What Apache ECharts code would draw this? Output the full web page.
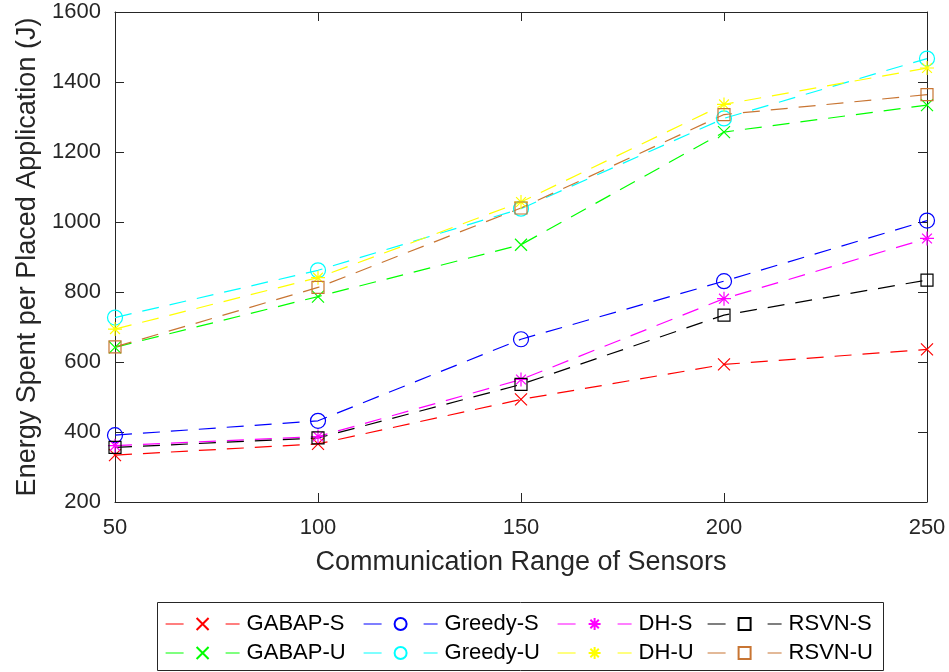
<!DOCTYPE html>
<html>
<head>
<meta charset="utf-8">
<script src="https://cdn.jsdelivr.net/npm/echarts@6/dist/echarts.min.js"></script>
<style>
  html, body { margin: 0; padding: 0; background: #fff; }
  #chart { width: 949px; height: 672px; }
</style>
</head>
<body>
<div id="chart"></div>
<script>
(function(){
    // communication range (x axis)
    var ranges = [50, 100, 150, 200, 250];
    var yTicks = [200, 400, 600, 800, 1000, 1200, 1400, 1600];

    // energy per placed application (J)
    var gabapS  = [334, 366, 493, 593, 636];
    var gabapU  = [642, 787, 935, 1257, 1334];
    var greedyS = [391, 432, 665, 831, 1004];
    var greedyU = [727, 862, 1038, 1296, 1467];
    var dhS     = [361, 387, 550, 781, 953];
    var dhU     = [694, 841, 1057, 1336, 1440];
    var rsvnS   = [356, 383, 536, 734, 834];
    var rsvnU   = [643, 813, 1040, 1307, 1364];

    var CROSS = 'path://M0,0L10,10M10,0L0,10';
    var STAR  = 'path://M5,0L5,10M0,5L10,5M1.5,1.5L8.5,8.5M8.5,1.5L1.5,8.5';

    var defs = [
        {name: 'GABAP-S',  data: gabapS,  color: '#ff0000', symbol: CROSS,    size: 12},
        {name: 'Greedy-S', data: greedyS, color: '#0000ff', symbol: 'circle', size: 15},
        {name: 'DH-S',     data: dhS,     color: '#ff00ff', symbol: STAR,     size: 14},
        {name: 'RSVN-S',   data: rsvnS,   color: '#000000', symbol: 'rect',   size: 12},
        {name: 'GABAP-U',  data: gabapU,  color: '#00ff00', symbol: CROSS,    size: 12},
        {name: 'Greedy-U', data: greedyU, color: '#00ffff', symbol: 'circle', size: 15},
        {name: 'DH-U',     data: dhU,     color: '#ffff00', symbol: STAR,     size: 14},
        {name: 'RSVN-U',   data: rsvnU,   color: '#c87533', symbol: 'rect',   size: 12}
    ];

    var series = defs.map(function(d){
        return {
            name: d.name,
            type: 'line',
            data: d.data.map(function(v, i){ return [ranges[i], v]; }),
            symbol: d.symbol,
            symbolSize: d.size,
            showSymbol: true,
            showAllSymbol: true,
            lineStyle: {color: d.color, width: 1.2, type: [17, 11]},
            itemStyle: {color: 'rgba(0,0,0,0)', borderColor: d.color, borderWidth: 1.2},
            emphasis: {disabled: true},
            animation: false
        };
    });

    var colLeft = [165, 363, 557, 707];
    var rowTop = [613, 642];
    var legends = defs.map(function(d, i){
        return {
            data: [d.name],
            left: colLeft[i % 4],
            top: rowTop[Math.floor(i / 4)],
            padding: 0,
            itemWidth: 74,
            itemHeight: 15,
            itemGap: 0,
            selectedMode: false,
            textStyle: {fontFamily: 'Liberation Sans', fontSize: 22, color: '#000', padding: [0, 0, 0, 2]},
            lineStyle: {type: [18, 42], width: 1.2}
        };
    });

    var fontFam = 'Liberation Sans';
    var axisCol = '#262626';

    option = {
        backgroundColor: '#fff',
        animation: false,
        grid: {left: 115, right: 22, top: 12, bottom: 170},
        legend: legends,
        graphic: [{
            type: 'rect',
            shape: {x: 157.5, y: 602.5, width: 726, height: 68},
            style: {fill: 'none', stroke: '#262626', lineWidth: 1},
            silent: true
        }],
        xAxis: [{
            type: 'value',
            min: ranges[0],
            max: ranges[ranges.length - 1],
            interval: 50,
            name: 'Communication Range of Sensors',
            nameLocation: 'middle',
            nameGap: 47,
            nameTextStyle: {fontFamily: fontFam, fontSize: 27, color: axisCol},
            axisLine: {lineStyle: {color: axisCol, width: 1}},
            axisTick: {inside: true, length: 9, lineStyle: {color: axisCol}},
            axisLabel: {fontFamily: fontFam, fontSize: 22, color: axisCol, margin: 15},
            splitLine: {show: false}
        }, {
            type: 'value',
            position: 'top',
            min: ranges[0],
            max: ranges[ranges.length - 1],
            interval: 50,
            axisLine: {show: true, lineStyle: {color: axisCol, width: 1}},
            axisTick: {inside: true, length: 9, lineStyle: {color: axisCol}},
            axisLabel: {show: false},
            splitLine: {show: false}
        }],
        yAxis: [{
            type: 'value',
            min: yTicks[0],
            max: yTicks[yTicks.length - 1],
            interval: 200,
            name: 'Energy Spent per Placed Application (J)',
            nameLocation: 'middle',
            nameGap: 74,
            nameTextStyle: {fontFamily: fontFam, fontSize: 27, color: axisCol},
            axisLine: {show: true, lineStyle: {color: axisCol, width: 1}},
            axisTick: {show: true, inside: true, length: 9, lineStyle: {color: axisCol}},
            axisLabel: {
                fontFamily: fontFam, fontSize: 22, color: axisCol, margin: 14,
                formatter: function(v){ return String(v); }
            },
            splitLine: {show: false}
        }, {
            type: 'value',
            position: 'right',
            min: yTicks[0],
            max: yTicks[yTicks.length - 1],
            interval: 200,
            axisLine: {show: true, lineStyle: {color: axisCol, width: 1}},
            axisTick: {show: true, inside: true, length: 9, lineStyle: {color: axisCol}},
            axisLabel: {show: false},
            splitLine: {show: false}
        }],
        series: series
    };

    var myChart = echarts.init(document.getElementById('chart'));
    myChart.setOption(option);
})()
</script>
</body>
</html>
